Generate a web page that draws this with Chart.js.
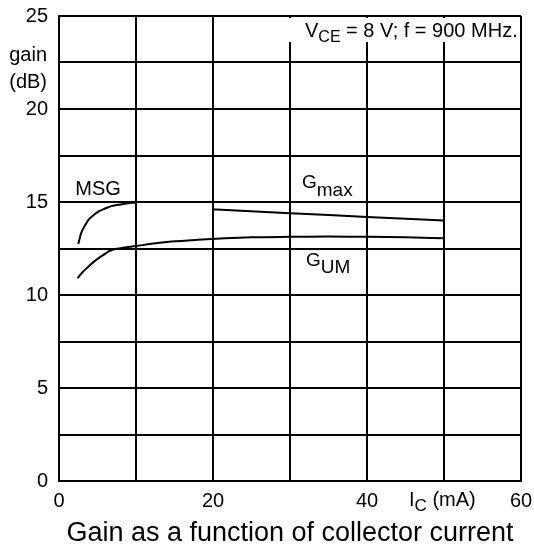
<!DOCTYPE html>
<html>
<head>
<meta charset="utf-8">
<script src="https://cdn.jsdelivr.net/npm/chart.js@4"></script>
<style>
  html, body { margin: 0; padding: 0; background: #fff; }
  #wrap { width: 534px; height: 545px; }
</style>
</head>
<body>
<div id="wrap"><canvas id="chart" width="534" height="545"></canvas></div>
<script>
// values (I_C in mA, gain in dB)
const msgCurrent = [2.5, 2.9, 3.4, 3.8, 4.5, 5.1, 6, 6.8, 8, 9, 10];
const msgGain = [12.74, 13.35, 13.75, 14.03, 14.3, 14.48, 14.65, 14.78, 14.87, 14.93, 14.97];

const gumCurrent = [2.4, 3, 3.8, 4.5, 5.1, 6, 6.6, 8, 10, 12, 14.6, 18, 21.6, 25, 30, 35, 40, 45, 50];
const gumGain = [10.9, 11.2, 11.52, 11.78, 11.97, 12.22, 12.38, 12.52, 12.63, 12.75, 12.87, 12.97, 13.05, 13.1, 13.13, 13.15, 13.13, 13.1, 13.05];

const gmaxCurrent = [20, 30, 40, 50];
const gmaxGain = [14.6, 14.4, 14.2, 14.0];

const xTickLabels = [0, 20, 40, 60];
const yTickLabels = [0, 5, 10, 15, 20, 25];

const FONT = '"Liberation Sans", Arial, sans-serif';

function toPoints(xs, ys) {
  return xs.map((x, i) => ({ x: x, y: ys[i] }));
}

function curve(label, xs, ys) {
  return {
    label: label,
    data: toPoints(xs, ys),
    showLine: true,
    borderColor: '#000',
    borderWidth: 2,
    pointRadius: 0,
    cubicInterpolationMode: 'monotone',
    fill: false,
  };
}

// text with a subscript part, left aligned at x on baseline y
function subText(ctx, x, y, main, sub, rest, size, subSize, drop) {
  ctx.textAlign = 'left';
  ctx.textBaseline = 'alphabetic';
  ctx.font = size + 'px ' + FONT;
  ctx.fillText(main, x, y);
  x += ctx.measureText(main).width;
  ctx.font = subSize + 'px ' + FONT;
  ctx.fillText(sub, x, y + drop);
  x += ctx.measureText(sub).width;
  if (rest) {
    ctx.font = size + 'px ' + FONT;
    ctx.fillText(rest, x, y);
  }
}

const labelsPlugin = {
  id: 'labels',
  afterDraw(chart) {
    const ctx = chart.ctx;
    const xs = chart.scales.x;
    const area = chart.chartArea;
    ctx.save();

    // conditions box in the upper right corner
    const boxLeft = xs.getPixelForValue(29);
    ctx.fillStyle = '#fff';
    ctx.fillRect(boxLeft, area.top + 2, area.right - boxLeft - 2, 24);
    ctx.fillStyle = '#000';
    subText(ctx, 305, 37, 'V', 'CE', ' = 8 V; f = 900 MHz.', 20, 16, 5);

    // y axis title
    ctx.font = '20px ' + FONT;
    ctx.textAlign = 'right';
    ctx.textBaseline = 'middle';
    ctx.fillText('gain', 47, 55);
    ctx.fillText('(dB)', 47, 82);

    // x axis title in place of the 50 tick
    const px = xs.getPixelForValue(50);
    subText(ctx, px - 35, 506, 'I', 'C', ' (mA)', 20, 17, 5);

    // curve labels
    ctx.font = '20px ' + FONT;
    ctx.textAlign = 'center';
    ctx.textBaseline = 'alphabetic';
    ctx.fillText('MSG', 98, 195);
    subText(ctx, 302, 188, 'G', 'max', '', 19, 19, 8);
    subText(ctx, 306, 266, 'G', 'UM', '', 19, 19, 7);

    // caption
    ctx.font = '27px ' + FONT;
    ctx.textAlign = 'center';
    ctx.fillText('Gain as a function of collector current', (area.left + area.right) / 2, 541);
    ctx.restore();
  }
};

const ctx = document.getElementById('chart').getContext('2d');
new Chart(ctx, {
  type: 'scatter',
  data: {
    datasets: [
      curve('MSG', msgCurrent, msgGain),
      curve('GUM', gumCurrent, gumGain),
      curve('Gmax', gmaxCurrent, gmaxGain),
    ],
  },
  options: {
    responsive: false,
    animation: false,
    layout: { padding: 0 },
    plugins: {
      legend: { display: false },
      tooltip: { enabled: false },
    },
    scales: {
      x: {
        type: 'linear',
        min: 0,
        max: 60,
        afterFit: (scale) => {
          scale.height = 64;
          scale.paddingRight = 13;
        },
        grid: { color: '#000', lineWidth: 2, drawTicks: false },
        border: { color: '#000', width: 2 },
        ticks: {
          stepSize: 10,
          padding: 8,
          color: '#000',
          font: { size: 20, family: FONT },
          maxRotation: 0,
          autoSkip: false,
          callback: (v) => xTickLabels.includes(v) ? String(v) : '',
        },
      },
      y: {
        type: 'linear',
        min: 0,
        max: 25,
        afterFit: (scale) => {
          scale.width = 59;
          scale.paddingTop = 16;
        },
        grid: { color: '#000', lineWidth: 2, drawTicks: false },
        border: { color: '#000', width: 2 },
        ticks: {
          stepSize: 2.5,
          padding: 11,
          color: '#000',
          font: { size: 20, family: FONT },
          autoSkip: false,
          callback: (v) => yTickLabels.includes(v) ? String(v) : '',
        },
      },
    },
  },
  plugins: [labelsPlugin],
});
</script>
</body>
</html>
